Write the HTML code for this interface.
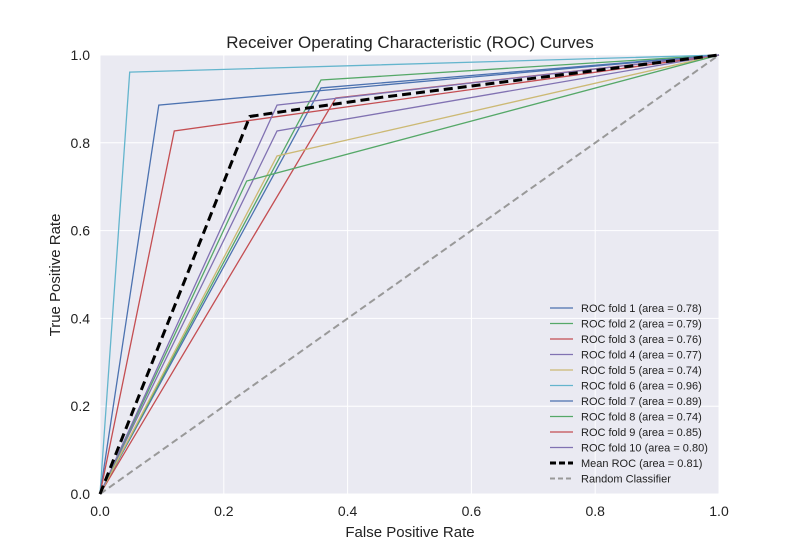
<!DOCTYPE html>
<html><head><meta charset="utf-8"><style>
body{margin:0;background:#fff;font-family:"Liberation Sans",sans-serif}
</style></head><body>
<svg id="c" width="800" height="550" xmlns="http://www.w3.org/2000/svg" font-family="Liberation Sans, sans-serif"></svg>
<script>
const foldLabels=["ROC fold 1 (area = 0.78)","ROC fold 2 (area = 0.79)","ROC fold 3 (area = 0.76)","ROC fold 4 (area = 0.77)","ROC fold 5 (area = 0.74)","ROC fold 6 (area = 0.96)","ROC fold 7 (area = 0.89)","ROC fold 8 (area = 0.74)","ROC fold 9 (area = 0.85)","ROC fold 10 (area = 0.80)"];
const foldFpr=[0.357,0.357,0.381,0.286,0.286,0.048,0.095,0.237,0.12,0.286];
const foldTpr=[0.925,0.943,0.902,0.827,0.77,0.961,0.886,0.713,0.827,0.886];
const foldColors=["#4C72B0","#55A868","#C44E52","#8172B2","#CCB974","#64B5CD","#4C72B0","#55A868","#C44E52","#8172B2"];
const meanFpr=[0,0.242,0.3,0.457,1];
const meanTpr=[0,0.86,0.872,0.904,1];
const ticks=[0,0.2,0.4,0.6,0.8,1.0];
const X0=100,X1=719,Y0=494,Y1=55;
const sx=v=>X0+v*(X1-X0), sy=v=>Y0-v*(Y0-Y1);
const svg=document.getElementById('c');const NS="http://www.w3.org/2000/svg";
function mk(t,a,p){const e=document.createElementNS(NS,t);for(const k in a)e.setAttribute(k,a[k]);(p||svg).appendChild(e);return e;}
let bg=mk('rect',{x:X0,y:Y1,width:X1-X0,height:Y0-Y1,fill:'#EAEAF2'});


ticks.forEach(t=>{
 let g=mk('line',{x1:sx(t),x2:sx(t),y1:Y1,y2:Y0,stroke:'#fff','stroke-width':1});
 
 
 let h=mk('line',{x1:X0,x2:X1,y1:sy(t),y2:sy(t),stroke:'#fff','stroke-width':1});
 
 
 let xl=mk('text',{x:sx(t),y:516,'text-anchor':'middle','font-size':14,fill:'#222'});xl.textContent=t.toFixed(1);
 
 
 let yl=mk('text',{x:90,y:sy(t)+5,'text-anchor':'end','font-size':14,fill:'#222'});yl.textContent=t.toFixed(1);
 
 
});
let rnd=mk('line',{x1:sx(0),y1:sy(0),x2:sx(1),y2:sy(1),stroke:'#999','stroke-width':2,'stroke-dasharray':'7,4'});


foldFpr.forEach((f,i)=>{
 let p=mk('polyline',{points:`${sx(0)},${sy(0)} ${sx(f)},${sy(foldTpr[i])} ${sx(1)},${sy(1)}`,fill:'none',stroke:foldColors[i],'stroke-width':1.3});
 
 
});
let mp=mk('polyline',{points:meanFpr.map((f,i)=>sx(f)+','+sy(meanTpr[i])).join(' '),fill:'none',stroke:'#000','stroke-width':3,'stroke-dasharray':'9,5'});


const legLabels=foldLabels.concat(["Mean ROC (area = 0.81)","Random Classifier"]);
legLabels.forEach((l,i)=>{
 const y=308+i*15.5;
 const col=i<10?foldColors[i]:(i==10?'#000':'#999');
 let ln=mk('line',{x1:550,x2:573,y1:y,y2:y,stroke:col,'stroke-width':i<10?1.3:(i==10?3:2),'stroke-dasharray':i<10?'none':(i==10?'6,3':'5,3')});
 
 
 let t=mk('text',{x:581,y:y+4,'font-size':11,fill:'#222'});t.textContent=l;
 
 
});
let ti=mk('text',{x:410,y:48,'text-anchor':'middle','font-size':17,fill:'#222'});ti.textContent="Receiver Operating Characteristic (ROC) Curves";


let xt=mk('text',{x:410,y:537,'text-anchor':'middle','font-size':15,fill:'#222'});xt.textContent="False Positive Rate";


let yt=mk('text',{x:60,y:275,'text-anchor':'middle','font-size':15,fill:'#222',transform:'rotate(-90 60 275)'});yt.textContent="True Positive Rate";


</script>
</body></html>
